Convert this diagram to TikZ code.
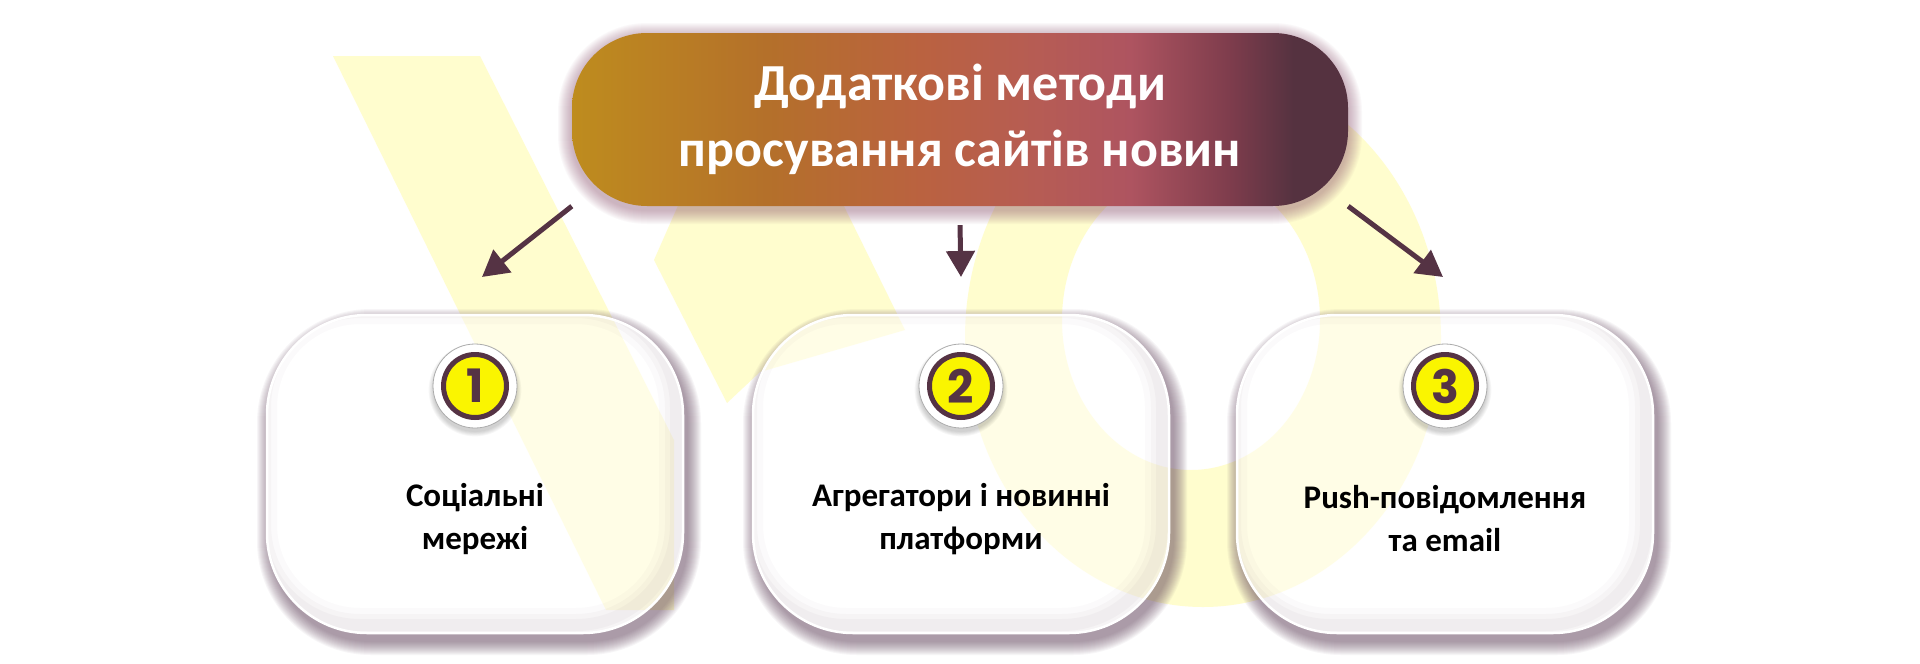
\documentclass[tikz,border=0pt]{standalone}
\usepackage{fontspec}
\setmainfont{Carlito}
\newfontfamily\numfont{Poppins}
\usetikzlibrary{arrows.meta}
\definecolor{plum}{RGB}{85,51,68}
\definecolor{wmy}{RGB}{255,253,206}
\definecolor{badgey}{RGB}{250,245,0}
\definecolor{shadowc}{RGB}{94,62,88}
\definecolor{glowc}{RGB}{140,80,110}
\definecolor{g0}{RGB}{190,140,30}
\definecolor{g1}{RGB}{180,112,42}
\definecolor{g2}{RGB}{186,98,64}
\definecolor{g3}{RGB}{182,92,84}
\definecolor{g4}{RGB}{174,84,96}
\definecolor{g5}{RGB}{125,60,76}
\definecolor{g6}{RGB}{85,50,64}
\pgfdeclarehorizontalshading{titleshade}{100bp}{color(0bp)=(g0); color(25bp)=(g0); color(37.5bp)=(g1); color(47.5bp)=(g2); color(55bp)=(g3); color(61bp)=(g4); color(67.5bp)=(g5); color(71.5bp)=(g6); color(75bp)=(g6); color(100bp)=(g6)}
\newcommand\wmark[1]{%
  \fill[wmy,#1] (333,56) -- (480,56) -- (674,440) -- (674,610) -- (606,610) -- cycle;
  \fill[wmy,#1] (744,56) -- (770,56) -- (905,330) -- (760,372) -- (727,403) -- (654,260) -- cycle;
  \fill[wmy,#1,even odd rule] (1203,338) ellipse [x radius=238, y radius=269]
                               (1191,320) ellipse [x radius=129, y radius=150];
}
\newcommand\cardfx[2]{%
  \begin{scope}
    \clip[rounded corners=100pt] (#1,315) rectangle (#2,633);
    \wmark{opacity=0.5}
    \foreach \w/\o in {34/0.025,22/0.03,12/0.035}
      \draw[shadowc, opacity=\o, line width=\w pt, rounded corners=100pt] (#1-7,307) rectangle (#2-7,625);
  \end{scope}
  \draw[white, line width=2.5pt, rounded corners=100pt] (#1,315) rectangle (#2,633);
}
\newcommand\badgebase[1]{%
  \foreach \i in {1,...,6} \fill[black, opacity=0.03] (#1,390) circle (41+\i*0.9);
  \fill[white] (#1,386) circle (42);
  \draw[gray!65, line width=0.8pt] (#1,386) circle (42);
}
\begin{document}
\begin{tikzpicture}[x=1pt,y=-1pt,
  titlebox/.style={shade, shading=titleshade, rounded corners=75pt, minimum width=776pt, minimum height=173pt,
    text=white, align=center, inner sep=0pt, font=\bfseries\fontsize{52}{66}\selectfont},
  card/.style={fill=white, rounded corners=100pt, minimum width=416pt, minimum height=318pt, inner sep=0pt},
  badge/.style={circle, fill=badgey, draw=plum, line width=5pt, minimum size=63pt, inner sep=0pt,
    text=plum, font=\numfont\bfseries\fontsize{46}{46}\selectfont},
  lbl/.style={align=center, text=black, font=\bfseries\fontsize{33}{43}\selectfont},
  arr/.style={draw=plum, line width=5pt, -{Triangle[length=26pt,width=28pt]}}]
\useasboundingbox (0,0) rectangle (1920,664);
\fill[white] (0,0) rectangle (1920,664);
\wmark{}
% glow of the title
\foreach \i [evaluate=\i as \r using 75+\i] in {1,...,14}
  \fill[glowc, opacity=0.035, rounded corners=\r pt] (572-\i,37-\i) rectangle (1348+\i,210+\i);
% shadows of the cards
\foreach \xa/\xb in {267/683, 753/1169, 1237/1653}{
  \foreach \i [evaluate=\i as \r using 100+\i] in {1,...,14}
    \fill[shadowc, opacity=0.048, rounded corners=\r pt] (\xa-\i+4,323-\i) rectangle (\xb+\i+4,641+\i);
}
\coordinate (e1) at (482,277);
\coordinate (e2) at (961,277);
\coordinate (e3) at (1443,277);
\node[titlebox] (t) at (960,119.5) {Додаткові методи\\просування сайтів новин};
\draw[arr] (t.south west) -- (e1);
\draw[arr] ([yshift=-19pt]t.south) -- (e2);
\draw[arr] (t.south east) -- (e3);
\node[card] (b1) at (475,474) {};
\node[card] (b2) at (961,474) {};
\node[card] (b3) at (1445,474) {};
\cardfx{267}{683}
\cardfx{753}{1169}
\cardfx{1237}{1653}
\badgebase{475}
\badgebase{961}
\badgebase{1445}
\node[badge] (n1) at (475,386) {1};
\node[badge] (n2) at (961,386) {2};
\node[badge] (n3) at (1445,386) {3};
\node[lbl] (l1) at (475,519) {Соціальні\\мережі};
\node[lbl] (l2) at (961,519) {Агрегатори і новинні\\платформи};
\node[lbl] (l3) at (1445,519) {Push-повідомлення\\та email};
\end{tikzpicture}
\end{document}
